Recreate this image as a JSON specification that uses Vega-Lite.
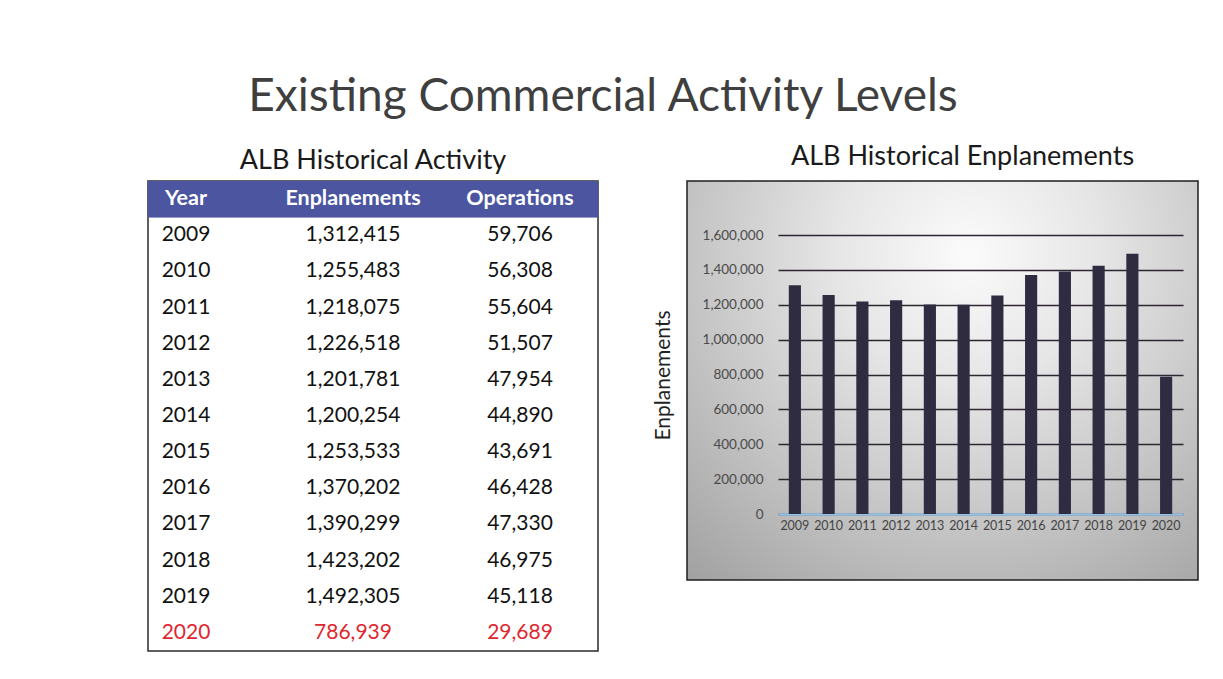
{
  "$schema": "https://vega.github.io/schema/vega-lite/v6.json",
  "background": "white",
  "padding": {"left": 147, "top": 74, "right": 20, "bottom": 10},
  "bounds": "flush",
  "config": {"font": "Lato", "view": {"stroke": null}},
  "datasets": {
    "alb": [
      {"year": "2009", "enplanements": 1312415, "operations": 59706},
      {"year": "2010", "enplanements": 1255483, "operations": 56308},
      {"year": "2011", "enplanements": 1218075, "operations": 55604},
      {"year": "2012", "enplanements": 1226518, "operations": 51507},
      {"year": "2013", "enplanements": 1201781, "operations": 47954},
      {"year": "2014", "enplanements": 1200254, "operations": 44890},
      {"year": "2015", "enplanements": 1253533, "operations": 43691},
      {"year": "2016", "enplanements": 1370202, "operations": 46428},
      {"year": "2017", "enplanements": 1390299, "operations": 47330},
      {"year": "2018", "enplanements": 1423202, "operations": 46975},
      {"year": "2019", "enplanements": 1492305, "operations": 45118},
      {"year": "2020", "enplanements": 786939, "operations": 29689}
    ],
    "cols": [{"col": "Year"}, {"col": "Enplanements"}, {"col": "Operations"}]
  },
  "title": {
    "text": "Existing Commercial Activity Levels",
    "fontSize": 46,
    "fontWeight": "normal",
    "color": "#3f3f3f",
    "anchor": "start",
    "dx": 101,
    "offset": 21
  },
  "spacing": 89,
  "hconcat": [
    {
      "width": 450,
      "height": 470,
      "title": {"text": "ALB Historical Activity", "fontSize": 27, "fontWeight": "normal", "color": "#1a1a1a", "anchor": "middle", "offset": 6},
      "view": {"stroke": "#2b2b2b", "strokeWidth": 1.5, "fill": "white"},
      "layer": [
        {
          "data": {"name": "cols"},
          "mark": {"type": "rect", "color": "#4b55a0"},
          "encoding": {
            "y": {
              "datum": "Header",
              "type": "ordinal",
              "scale": {
                "domain": ["Header", "2009", "2010", "2011", "2012", "2013", "2014", "2015", "2016", "2017", "2018", "2019", "2020"],
                "paddingInner": 0,
                "paddingOuter": 0
              },
              "axis": null
            }
          }
        },
        {
          "data": {"name": "cols"},
          "mark": {"type": "text", "color": "white", "fontWeight": "bold", "fontSize": 21.5, "baseline": "middle"},
          "encoding": {
            "x": {
              "field": "col",
              "type": "ordinal",
              "scale": {"type": "point", "domain": ["Year", "Enplanements", "Operations"], "range": [38, 372], "padding": 0},
              "axis": null
            },
            "y": {"datum": "Header", "type": "ordinal", "axis": null},
            "text": {"field": "col"}
          }
        },
        {
          "data": {"name": "alb"},
          "mark": {"type": "text", "fontSize": 21, "baseline": "middle"},
          "encoding": {
            "x": {"datum": "Year", "type": "ordinal", "axis": null},
            "y": {"field": "year", "type": "ordinal", "axis": null},
            "text": {"field": "year"},
            "color": {"condition": {"test": "datum.year === '2020'", "value": "#e0262f"}, "value": "#111111"}
          }
        },
        {
          "data": {"name": "alb"},
          "mark": {"type": "text", "fontSize": 21, "baseline": "middle"},
          "encoding": {
            "x": {"datum": "Enplanements", "type": "ordinal", "axis": null},
            "y": {"field": "year", "type": "ordinal", "axis": null},
            "text": {"field": "enplanements", "format": ","},
            "color": {"condition": {"test": "datum.year === '2020'", "value": "#e0262f"}, "value": "#111111"}
          }
        },
        {
          "data": {"name": "alb"},
          "mark": {"type": "text", "fontSize": 21, "baseline": "middle"},
          "encoding": {
            "x": {"datum": "Operations", "type": "ordinal", "axis": null},
            "y": {"field": "year", "type": "ordinal", "axis": null},
            "text": {"field": "operations", "format": ","},
            "color": {"condition": {"test": "datum.year === '2020'", "value": "#e0262f"}, "value": "#111111"}
          }
        }
      ]
    },
    {
      "width": 511,
      "height": 399,
      "title": {"text": "ALB Historical Enplanements", "fontSize": 27, "fontWeight": "normal", "color": "#1a1a1a", "anchor": "middle", "dx": 20, "offset": 10},
      "view": {
        "stroke": "#1e1e1e",
        "strokeWidth": 1.5,
        "fill": {
          "gradient": "radial",
          "x1": 0.55, "y1": 0.25, "r1": 0,
          "x2": 0.55, "y2": 0.25, "r2": 0.85,
          "stops": [
            {"offset": 0, "color": "#fbfbfb"},
            {"offset": 0.3, "color": "#e6e6e6"},
            {"offset": 1, "color": "#a0a0a0"}
          ]
        }
      },
      "data": {"name": "alb"},
      "mark": {"type": "bar", "color": "#2f2c42"},
      "encoding": {
        "x": {
          "field": "year",
          "type": "ordinal",
          "scale": {"range": [91, 496], "paddingInner": 0.64, "paddingOuter": 0.32},
          "axis": {
            "title": null,
            "orient": "bottom",
            "offset": -66,
            "labelAngle": 0,
            "ticks": false,
            "labelPadding": 5,
            "labelFontSize": 12.5,
            "labelColor": "#444444",
            "labelOverlap": false,
            "domainColor": "#8fc3ea",
            "domainWidth": 2
          }
        },
        "y": {
          "field": "enplanements",
          "type": "quantitative",
          "scale": {"domain": [0, 1600000], "range": [333, 54], "nice": false},
          "axis": {
            "title": "Enplanements",
            "titleFontSize": 21,
            "titleFontWeight": "normal",
            "titleColor": "#222222",
            "titleX": -102,
            "titleY": 194,
            "titleBaseline": "middle",
            "titleAngle": -90,
            "offset": -78,
            "values": [0, 200000, 400000, 600000, 800000, 1000000, 1200000, 1400000, 1600000],
            "labelExpr": "format(datum.value, ',')",
            "ticks": false,
            "domain": false,
            "labelPadding": 2,
            "labelFontSize": 13.5,
            "labelColor": "#4a4a4a",
            "grid": true,
            "gridColor": "#2c2630",
            "gridWidth": 1.4
          }
        }
      }
    }
  ]
}
